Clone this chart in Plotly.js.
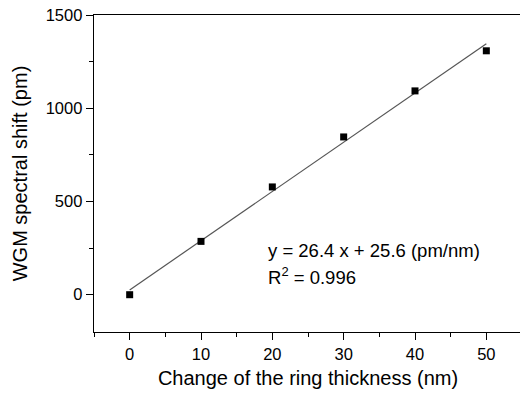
<!DOCTYPE html>
<html>
<head>
<meta charset="utf-8">
<script src="https://cdn.plot.ly/plotly-3.0.1.min.js"></script>
<style>
html,body{margin:0;padding:0;overflow:hidden;background:#fff;width:520px;height:393px;}
#chart{width:523px;height:393px;}
</style>
</head>
<body>
<div id="chart"></div>
<script>
const thickness = [0, 10, 20, 30, 40, 50];
const shift = [0, 286, 578, 846, 1093, 1308];
const fitX = [0, 50];
const slope = 26.4;
const intercept = 25.6;
const fitY = fitX.map(x => slope * x + intercept);
const xTicks = [0, 10, 20, 30, 40, 50];
const yTicks = [0, 500, 1000, 1500];

const font = "Liberation Sans, Arial, sans-serif";

const traces = [
  {x: fitX, y: fitY, mode: 'lines', line: {color: '#555', width: 1.2}, hoverinfo: 'skip', showlegend: false},
  {x: thickness, y: shift, mode: 'markers', marker: {symbol: 'square', size: 7, color: '#000'}, showlegend: false}
];

const layout = {
  width: 523, height: 393,
  margin: {l: 94, r: 1, t: 15, b: 61},
  paper_bgcolor: '#fff', plot_bgcolor: '#fff',
  font: {family: font, size: 16, color: '#000'},
  showlegend: false,
  xaxis: {
    range: [-5, 55], tickvals: xTicks, ticks: 'outside', ticklen: 7, tickwidth: 1, tickcolor: '#000',
    showline: true, linecolor: '#000', linewidth: 1.3, mirror: true, showgrid: false, zeroline: false,
    minor: {dtick: 5, tick0: 5, ticks: 'outside', ticklen: 4, tickcolor: '#000', showgrid: false},
    tickfont: {size: 16.5},
    title: {text: 'Change of the ring thickness (nm)', font: {size: 20}, standoff: 9}
  },
  yaxis: {
    range: [-200, 1500], tickvals: yTicks, ticks: 'outside', ticklen: 7, tickwidth: 1, tickcolor: '#000',
    showline: true, linecolor: '#000', linewidth: 1.3, showgrid: false, zeroline: false,
    minor: {dtick: 250, tick0: 250, ticks: 'outside', ticklen: 4, tickcolor: '#000', showgrid: false},
    tickfont: {size: 16.5},
    title: {text: 'WGM spectral shift (pm)', font: {size: 20}, standoff: 12}
  },
  annotations: [
    {x: 19.15, y: 238, xref: 'x', yref: 'y', xanchor: 'left', yanchor: 'middle', showarrow: false,
     text: 'y = 26.4 x + 25.6 (pm/nm)', font: {size: 18.5}},
    {x: 19.15, y: 98, xref: 'x', yref: 'y', xanchor: 'left', yanchor: 'middle', showarrow: false,
     text: 'R<sup>2</sup> = 0.996', font: {size: 18.5}}
  ]
};

Plotly.newPlot('chart', traces, layout, {staticPlot: true, displayModeBar: false});
</script>
</body>
</html>
